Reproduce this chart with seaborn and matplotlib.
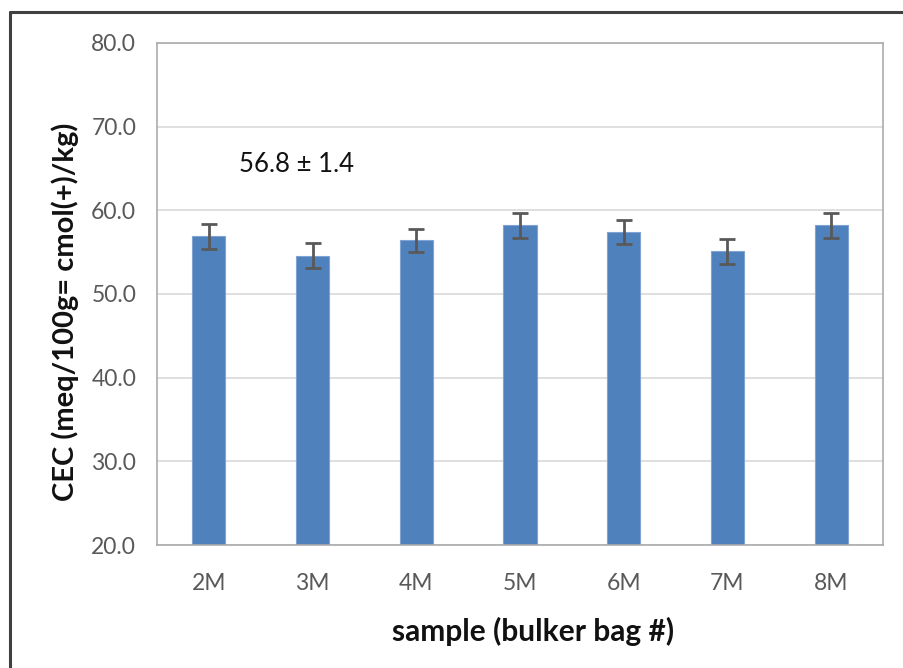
import matplotlib
matplotlib.use("Agg")
import matplotlib.pyplot as plt
from matplotlib.lines import Line2D
import seaborn as sns
import pandas as pd

# CEC per bulker bag sample
samples = ["2M", "3M", "4M", "5M", "6M", "7M", "8M"]
cec = [56.9, 54.6, 56.4, 58.2, 57.4, 55.1, 58.2]
cec_err = [1.5, 1.5, 1.4, 1.5, 1.4, 1.5, 1.5]
y_ticks = [20.0, 30.0, 40.0, 50.0, 60.0, 70.0, 80.0]
summary_text = "56.8 ± 1.4"

sns.set_theme(style="white")
plt.rcParams["font.family"] = ["Lato", "DejaVu Sans"]

df = pd.DataFrame({"sample": samples, "cec": cec})

fig = plt.figure(figsize=(9.04, 6.68), dpi=100)
ax = fig.add_axes([157 / 904, 1 - 545 / 668, 726 / 904, 502 / 668])

sns.barplot(data=df, x="sample", y="cec", color="#4F81BD", saturation=1,
            width=0.32, errorbar=None, edgecolor="#7FA3D3", linewidth=0.8, ax=ax)
xpos = ax.get_xticks()
ax.errorbar(xpos, cec, yerr=cec_err, fmt="none", ecolor="#595959",
            elinewidth=2, capsize=6, capthick=2, zorder=5)

ax.set_ylim(y_ticks[0], y_ticks[-1])
ax.set_yticks(y_ticks)
ax.set_yticklabels([f"{v:.1f}" for v in y_ticks])
ax.set_xlim(-0.5, len(samples) - 0.5)
ax.yaxis.grid(True, color="#D9D9D9", linewidth=1.2)
ax.set_axisbelow(True)
for s in ax.spines.values():
    s.set_color("#ABABAB")
    s.set_linewidth(1.2)
ax.tick_params(axis="both", length=0, labelsize=16.5, labelcolor="#595959")
ax.tick_params(axis="y", pad=15)
ax.tick_params(axis="x", pad=20)

ax.set_xlabel("sample (bulker bag #)", fontsize=21.5, fontweight="bold",
              color="#111111")
ax.xaxis.set_label_coords(0.518, -0.143)
ax.set_ylabel("CEC (meq/100g= cmol(+)/kg)", fontsize=21, fontweight="bold",
              color="#111111")
ax.yaxis.set_label_coords(-0.108, 0.464)

ax.text(297 / 904, 1 - 165 / 668, summary_text, transform=fig.transFigure,
        ha="center", va="center", fontsize=18.5, color="#111111")

# outer chart frame
fig.add_artist(Line2D([10 / 904, 10 / 904], [0, 1 - 12 / 668],
                      transform=fig.transFigure, color="#404040", lw=2.2))
fig.add_artist(Line2D([10 / 904, 1], [1 - 12 / 668, 1 - 12 / 668],
                      transform=fig.transFigure, color="#404040", lw=2.2))

fig.savefig("out.png", dpi=100)
